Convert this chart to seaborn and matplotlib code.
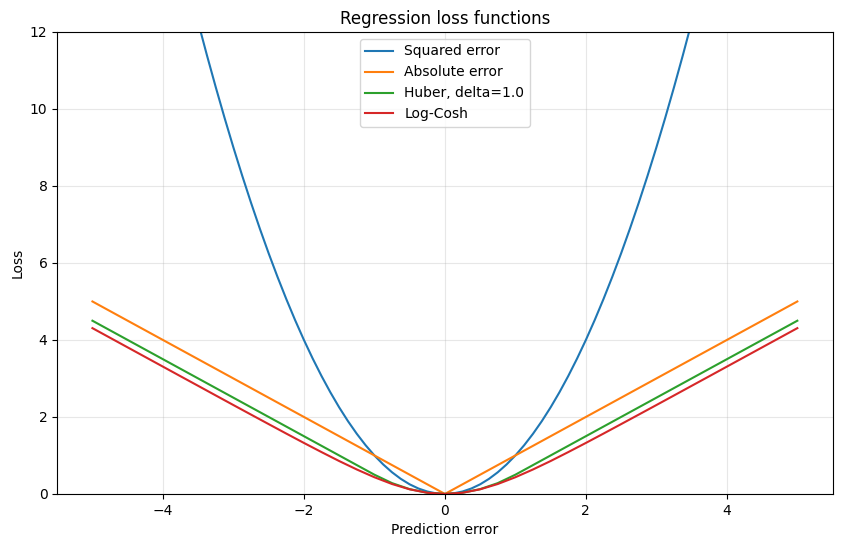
import pandas as pd
import numpy as np
import matplotlib
matplotlib.use("Agg")
import matplotlib.pyplot as plt
import seaborn as sns

# prediction error samples (linear-ish curves)
errors = [-5.0, -4.75, -4.5, -4.25, -4.0, -3.75, -3.5, -3.25, -3.0, -2.75, -2.5,
          -2.25, -2.0, -1.75, -1.5, -1.25, -1.0, -0.75, -0.5, -0.25, 0.0,
          0.25, 0.5, 0.75, 1.0, 1.25, 1.5, 1.75, 2.0, 2.25, 2.5,
          2.75, 3.0, 3.25, 3.5, 3.75, 4.0, 4.25, 4.5, 4.75, 5.0]

# denser samples for the parabola (only the visible part below loss=12 matters)
sq_errors = [-3.625, -3.5, -3.375, -3.25, -3.125, -3.0, -2.875, -2.75, -2.625, -2.5,
             -2.375, -2.25, -2.125, -2.0, -1.875, -1.75, -1.625, -1.5, -1.375, -1.25,
             -1.125, -1.0, -0.875, -0.75, -0.625, -0.5, -0.375, -0.25, -0.125, 0.0,
             0.125, 0.25, 0.375, 0.5, 0.625, 0.75, 0.875, 1.0, 1.125, 1.25,
             1.375, 1.5, 1.625, 1.75, 1.875, 2.0, 2.125, 2.25, 2.375, 2.5,
             2.625, 2.75, 2.875, 3.0, 3.125, 3.25, 3.375, 3.5, 3.625]

squared = [13.141, 12.25, 11.391, 10.563, 9.766, 9.0, 8.266, 7.563, 6.891, 6.25,
           5.641, 5.063, 4.516, 4.0, 3.516, 3.063, 2.641, 2.25, 1.891, 1.563,
           1.266, 1.0, 0.766, 0.563, 0.391, 0.25, 0.141, 0.063, 0.016, 0.0,
           0.016, 0.063, 0.141, 0.25, 0.391, 0.563, 0.766, 1.0, 1.266, 1.563,
           1.891, 2.25, 2.641, 3.063, 3.516, 4.0, 4.516, 5.063, 5.641, 6.25,
           6.891, 7.563, 8.266, 9.0, 9.766, 10.563, 11.391, 12.25, 13.141]

absolute = [5.0, 4.75, 4.5, 4.25, 4.0, 3.75, 3.5, 3.25, 3.0, 2.75, 2.5,
            2.25, 2.0, 1.75, 1.5, 1.25, 1.0, 0.75, 0.5, 0.25, 0.0,
            0.25, 0.5, 0.75, 1.0, 1.25, 1.5, 1.75, 2.0, 2.25, 2.5,
            2.75, 3.0, 3.25, 3.5, 3.75, 4.0, 4.25, 4.5, 4.75, 5.0]

huber = [4.5, 4.25, 4.0, 3.75, 3.5, 3.25, 3.0, 2.75, 2.5, 2.25, 2.0,
         1.75, 1.5, 1.25, 1.0, 0.75, 0.5, 0.281, 0.125, 0.031, 0.0,
         0.031, 0.125, 0.281, 0.5, 0.75, 1.0, 1.25, 1.5, 1.75, 2.0,
         2.25, 2.5, 2.75, 3.0, 3.25, 3.5, 3.75, 4.0, 4.25, 4.5]

logcosh = [4.307, 4.057, 3.807, 3.557, 3.307, 3.057, 2.808, 2.558, 2.309, 2.061, 1.814,
           1.568, 1.325, 1.087, 0.855, 0.636, 0.434, 0.258, 0.120, 0.031, 0.0,
           0.031, 0.120, 0.258, 0.434, 0.636, 0.855, 1.087, 1.325, 1.568, 1.814,
           2.061, 2.309, 2.558, 2.808, 3.057, 3.307, 3.557, 3.807, 4.057, 4.307]

labels = ['Squared error', 'Absolute error', 'Huber, delta=1.0', 'Log-Cosh']
xs = [sq_errors, errors, errors, errors]
series = [squared, absolute, huber, logcosh]

df = pd.concat([pd.DataFrame({'error': x, 'loss': s, 'kind': lab})
                for lab, x, s in zip(labels, xs, series)], ignore_index=True)

fig, ax = plt.subplots(figsize=(8.41, 5.47), dpi=100)
plt.subplots_adjust(left=0.068, right=0.990, top=0.9415, bottom=0.097)

sns.lineplot(data=df, x='error', y='loss', hue='kind', hue_order=labels,
             palette=sns.color_palette('tab10', 4), linewidth=1.5, ax=ax, sort=False)

ax.set_xlim(-5.5, 5.5)
ax.set_ylim(0, 12)
ax.set_xlabel('Prediction error')
ax.set_ylabel('Loss')
ax.set_title('Regression loss functions')
ax.grid(True, alpha=0.3)
ax.legend(loc='upper center', title=None)

plt.savefig('out.png', dpi=100)
